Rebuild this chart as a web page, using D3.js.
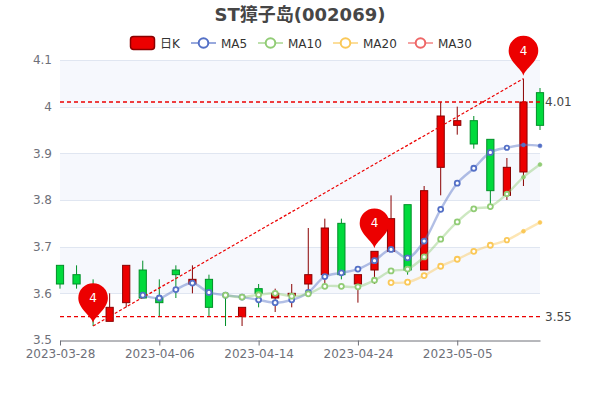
<!DOCTYPE html>
<html><head><meta charset="utf-8">
<script src="https://cdn.jsdelivr.net/npm/d3@7/dist/d3.min.js"></script>
<style>html,body{margin:0;padding:0;background:#fff}svg{display:block}text{font-family:"DejaVu Sans","Noto Sans CJK SC",sans-serif}</style>
</head><body><svg id="c" width="600" height="400"></svg>
<script>
const titleText = "ST獐子岛(002069)";
const dates = ["2023-03-28","2023-03-29","2023-03-30","2023-03-31","2023-04-03","2023-04-04","2023-04-06","2023-04-07","2023-04-10","2023-04-11","2023-04-12","2023-04-13","2023-04-14","2023-04-17","2023-04-18","2023-04-19","2023-04-20","2023-04-21","2023-04-24","2023-04-25","2023-04-26","2023-04-27","2023-04-28","2023-05-04","2023-05-05","2023-05-08","2023-05-09","2023-05-10","2023-05-11","2023-05-12"];
const tickDates = ["2023-03-28","2023-04-06","2023-04-14","2023-04-24","2023-05-05"];
const yTicks = [3.5,3.6,3.7,3.8,3.9,4,4.1];
const openVals  = [3.66,3.64,3.60,3.54,3.58,3.65,3.59,3.65,3.62,3.63,3.56,3.55,3.61,3.59,3.595,3.62,3.64,3.75,3.62,3.65,3.69,3.79,3.65,3.87,3.96,3.97,3.93,3.81,3.86,4.03];
const closeVals = [3.62,3.62,3.58,3.57,3.66,3.59,3.58,3.64,3.63,3.57,3.56,3.57,3.60,3.60,3.60,3.64,3.74,3.64,3.64,3.69,3.76,3.65,3.82,3.98,3.97,3.92,3.82,3.87,4.01,3.96];
const lowVals   = [3.61,3.61,3.53,3.54,3.57,3.59,3.55,3.59,3.60,3.55,3.53,3.53,3.57,3.56,3.57,3.60,3.62,3.63,3.58,3.62,3.69,3.64,3.65,3.81,3.94,3.91,3.78,3.80,3.83,3.95];
const highVals  = [3.66,3.66,3.63,3.60,3.66,3.67,3.63,3.66,3.66,3.64,3.60,3.57,3.62,3.61,3.62,3.74,3.76,3.76,3.64,3.69,3.81,3.79,3.83,4.01,4.00,3.98,3.93,3.89,4.06,4.04];
const ma5  = [null,null,null,null,null,3.596,3.59,3.608,3.622,3.602,3.596,3.592,3.586,3.58,3.586,3.602,3.636,3.644,3.652,3.67,3.694,3.676,3.712,3.78,3.836,3.868,3.902,3.912,3.918,3.916];
const ma10 = [null,null,null,null,null,null,null,null,null,null,3.596,3.592,3.597,3.60,3.594,3.599,3.615,3.615,3.614,3.628,3.648,3.652,3.678,3.716,3.753,3.781,3.786,3.813,3.849,3.876];
const ma20 = [null,null,null,null,null,null,null,null,null,null,null,null,null,null,null,null,null,null,null,null,3.623,3.624,3.638,3.658,3.673,3.69,3.703,3.714,3.733,3.752];
const lineSeries = [["MA5",ma5,"#5470c6"],["MA10",ma10,"#91cc75"],["MA20",ma20,"#fac858"]];
const legendNames = ["日K","MA5","MA10","MA20","MA30"];
const legendColors = ["#ec0000","#5470c6","#91cc75","#fac858","#ee6666"];
const pinIdx = [2,19,28];
const pinVals = [3.53,3.69,4.06];
const pinLabels = ["4","4","4"];
const hLineVals = [4.01,3.55];
const hLineLabels = ["4.01","3.55"];
const diagIdx = [2,28];
const diagVals = [3.53,4.06];

const svg = d3.select("#c");
const x = d3.scalePoint().domain(dates).range([60,540]);
const y = d3.scaleLinear().domain([3.5,4.1]).range([340,60]);
const UP="#ec0000",UPB="#8a0000",DN="#00da3c",DNB="#008f28";

// split areas
svg.append("g").selectAll("rect").data(yTicks.slice(0,-1)).join("rect")
  .attr("x",60).attr("width",480).attr("y",(d,i)=>y(yTicks[i+1])).attr("height",(d,i)=>y(yTicks[i])-y(yTicks[i+1]))
  .attr("fill",(d,i)=>i%2?"#f6f8fd":"#ffffff");
// grid
svg.append("g").selectAll("line").data(yTicks.slice(1)).join("line")
  .attr("x1",60).attr("x2",540).attr("y1",d=>Math.round(y(d))+.5).attr("y2",d=>Math.round(y(d))+.5)
  .attr("stroke","#e0e6f1");

// axes
const gx = svg.append("g").attr("transform","translate(0,340.5)")
  .call(d3.axisBottom(x).tickValues(tickDates).tickSizeInner(5).tickSizeOuter(0).tickPadding(4));
gx.selectAll("path,line").attr("stroke","#6e7079");
gx.selectAll("text").attr("fill","#6e7079").attr("font-size",12).style("font-family",'"DejaVu Sans"');
const gy = svg.append("g").attr("transform","translate(60,0)")
  .call(d3.axisLeft(y).tickValues(yTicks).tickFormat(d=>d===4?"4":d3.format(".1f")(d)).tickSize(0).tickPadding(8));
gy.select("path").remove();
gy.selectAll("text").attr("fill","#6e7079").attr("font-size",12).style("font-family",'"DejaVu Sans"');

// candles
const cg = svg.append("g");
dates.forEach((d,i)=>{
  const up = closeVals[i]>openVals[i];
  const t = y(Math.max(openVals[i],closeVals[i])), b = y(Math.min(openVals[i],closeVals[i]));
  const g = cg.append("g");
  g.append("line").attr("x1",x(d)).attr("x2",x(d)).attr("y1",y(highVals[i])).attr("y2",t).attr("stroke",up?UPB:DNB);
  g.append("line").attr("x1",x(d)).attr("x2",x(d)).attr("y1",b).attr("y2",y(lowVals[i])).attr("stroke",up?UPB:DNB);
  g.append("rect").attr("x",x(d)-3.6).attr("width",7.2).attr("y",t).attr("height",b-t)
    .attr("fill",up?UP:DN).attr("stroke",up?UPB:DNB).attr("stroke-width",1);
});

// mark lines
svg.append("g").selectAll("line").data(hLineVals).join("line")
  .attr("x1",60).attr("x2",540).attr("y1",d=>y(d)).attr("y2",d=>y(d))
  .attr("stroke","#ec0000").attr("stroke-width",1.3).attr("stroke-dasharray","4 3");
svg.append("line").attr("x1",x(dates[diagIdx[0]])).attr("y1",y(diagVals[0]))
  .attr("x2",x(dates[diagIdx[1]])).attr("y2",y(diagVals[1]))
  .attr("stroke","#ec0000").attr("stroke-width",1.2).attr("stroke-dasharray","3 2");
svg.append("g").selectAll("text").data(hLineVals).join("text")
  .attr("x",545).attr("y",d=>y(d)+4).attr("font-size",12).attr("fill","#464646").text((d,i)=>hLineLabels[i]);

// MA lines
const lg = d3.line().defined(d=>d!=null).x((d,i)=>x(dates[i])).y(d=>y(d)).curve(d3.curveCatmullRom.alpha(0.5));
lineSeries.forEach(([n,v,c])=>{
  svg.append("path").attr("d",lg(v)).attr("fill","none").attr("stroke",c).attr("stroke-width",2.4).attr("stroke-opacity",.45);
});
lineSeries.forEach(([n,v,c])=>{
  const last = dates.length-1;
  svg.append("g").selectAll("circle").data(v.map((d,i)=>[d,i]).filter(a=>a[0]!=null)).join("circle")
    .attr("cx",a=>x(dates[a[1]])).attr("cy",a=>y(a[0]))
    .attr("r",a=>a[1]>=last-1?2:(a[1]==last-2?2.2:2.5))
    .attr("fill",a=>a[1]>=last-1?c:"#fff").attr("stroke",c).attr("stroke-width",a=>a[1]>=last-1?.5:1.8);
});

// pins
const pinG = svg.append("g").selectAll("g").data(pinIdx).join("g")
  .attr("transform",(d,i)=>`translate(${x(dates[d])},${y(pinVals[i])-3})`);
pinG.append("path").attr("d","M0 0C-1.5 -7 -14.8 -14 -14.8 -25A14.8 14.8 0 1 1 14.8 -25C14.8 -14 1.5 -7 0 0Z").attr("fill","#ec0000");
pinG.append("text").attr("y",-25).attr("text-anchor","middle").attr("dominant-baseline","central")
  .attr("font-size",12).attr("fill","#fff").text((d,i)=>pinLabels[i]);

// title
svg.append("text").attr("x",300).attr("y",20.5).attr("text-anchor","middle")
  .attr("font-size",18).attr("font-weight","bold").attr("fill","#464646").text(titleText);

// legend
const legG = svg.append("g");
const legStart = [130,191,258,333,408];
legendNames.forEach((n,i)=>{
  const g = legG.append("g").attr("transform",`translate(${legStart[i]},43)`);
  const c = legendColors[i];
  if(i===0){
    g.append("rect").attr("x",.5).attr("y",-6.5).attr("width",24).attr("height",13).attr("rx",3)
      .attr("fill",UP).attr("stroke",UPB).attr("stroke-width",1.5);
  } else {
    g.append("line").attr("x1",0).attr("x2",25).attr("stroke",c).attr("stroke-width",2).attr("stroke-opacity",.6);
    g.append("circle").attr("cx",12.5).attr("r",4.8).attr("fill","#fff").attr("stroke",c).attr("stroke-width",2);
  }
  g.append("text").attr("x",30).attr("y",4.5).attr("font-size",12).attr("fill","#333").text(n);
});
</script></body></html>
